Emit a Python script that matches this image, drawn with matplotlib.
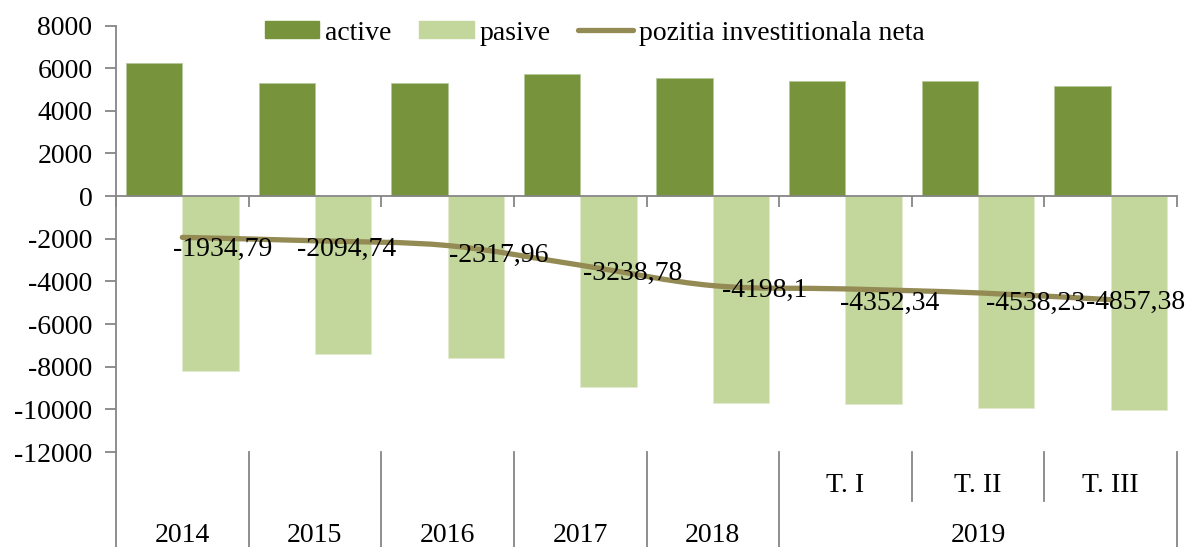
import matplotlib
matplotlib.use("Agg")
import matplotlib.pyplot as plt
from matplotlib.path import Path
from matplotlib.patches import PathPatch, Patch
from matplotlib.lines import Line2D
import matplotlib.transforms as mtransforms
import numpy as np

# data
periods = ["2014", "2015", "2016", "2017", "2018", "T. I", "T. II", "T. III"]
years = ["2014", "2015", "2016", "2017", "2018", "2019"]
active = [6260, 5290, 5290, 5710, 5525, 5410, 5385, 5180]
pasive = [-8195, -7385, -7608, -8949, -9723, -9762, -9923, -10037]
net = [-1934.79, -2094.74, -2317.96, -3238.78, -4198.1, -4352.34, -4538.23, -4857.38]
net_labels = ["-1934,79", "-2094,74", "-2317,96", "-3238,78", "-4198,1",
              "-4352,34", "-4538,23", "-4857,38"]
yticks = [-12000, -10000, -8000, -6000, -4000, -2000, 0, 2000, 4000, 6000, 8000]

# label offsets in pixels (dx, dy to baseline), picked by hand like in the source
lbl_off = [(40, -19), (32, -15), (51, -16), (52, -15), (52, -11), (44, -21), (58, -17), (25, -9)]

C_ACT = "#77933C"
C_PAS = "#C3D69B"
C_NET = "#948A54"
GREY = "#868686"

plt.rcParams['font.family'] = ['Liberation Serif', 'DejaVu Serif']
FS = 20

W, H = 1189, 547
fig = plt.figure(figsize=(W / 100, H / 100), dpi=100)
ax = fig.add_axes([116 / W, (H - 452) / H, (1177 - 116) / W, (452 - 25.5) / H])

x = np.arange(len(periods))
bw = 0.425
ax.bar(x - bw / 2, active, bw, color=C_ACT, edgecolor="#b5c99a", linewidth=0.6, zorder=2)
ax.bar(x + bw / 2, pasive, bw, color=C_PAS, edgecolor="#e2ebd0", linewidth=0.6, zorder=2)

# smoothed line (bezier through the points, like excel's "smoothed line")
pts = np.column_stack([x, net]).astype(float)
ext = np.vstack([pts[0], pts, pts[-1]])
verts = [pts[0]]
codes = [Path.MOVETO]
for i in range(len(pts) - 1):
    p0, p1, p2, p3 = ext[i], ext[i + 1], ext[i + 2], ext[i + 3]
    verts += [p1 + (p2 - p0) / 6, p2 - (p3 - p1) / 6, p2]
    codes += [Path.CURVE4] * 3
ax.add_patch(PathPatch(Path(verts, codes), facecolor="none", edgecolor=C_NET,
                       lw=3.8, capstyle="round", joinstyle="round", zorder=3))

for i, (v, t) in enumerate(zip(net, net_labels)):
    ax.annotate(t, xy=(i, v), xytext=lbl_off[i], textcoords="offset pixels",
                ha="center", va="baseline", fontsize=FS, zorder=4)

ax.set_xlim(-0.5, len(periods) - 0.5)
ax.set_ylim(-12000, 8000)
ax.set_yticks(yticks)
ax.set_yticklabels([str(t) for t in yticks], fontsize=FS)
ax.tick_params(axis="y", direction="out", length=8, width=1.3, color=GREY, pad=9)

ax.spines["top"].set_visible(False)
ax.spines["right"].set_visible(False)
ax.spines["left"].set_color(GREY)
ax.spines["left"].set_linewidth(1.3)
ax.spines["bottom"].set_position(("data", 0))
ax.spines["bottom"].set_color(GREY)
ax.spines["bottom"].set_linewidth(1.3)
ax.set_xticks(np.arange(len(periods) + 1) - 0.5)
ax.set_xticklabels([])
ax.tick_params(axis="x", direction="out", length=8, width=1.3, color=GREY)

# multi-level category labels under the plot
trans = mtransforms.blended_transform_factory(ax.transData, ax.transAxes)
y_short = -(501 - 452) / (452 - 25.5)
y_long = -(547 - 452) / (452 - 25.5)
y_q = -(486 - 452) / (452 - 25.5)
y_yr = -(536 - 452) / (452 - 25.5)
for b in np.arange(len(periods) + 1) - 0.5:
    bottom = y_short if b in (5.5, 6.5) else y_long
    ax.plot([b, b], [0, bottom], transform=trans, color=GREY, lw=1.3, clip_on=False)
for i in range(5, len(periods)):
    ax.text(i, y_q, periods[i], transform=trans, ha="center", va="center", fontsize=FS)
yr_pos = [0, 1, 2, 3, 4, 6]
for p, yr in zip(yr_pos, years):
    ax.text(p, y_yr, yr, transform=trans, ha="center", va="center", fontsize=FS)

handles = [Patch(color=C_ACT), Patch(color=C_PAS),
           Line2D([], [], color=C_NET, lw=3.8, solid_capstyle="round")]
fig.legend(handles, ["active", "pasive", "pozitia investitionala neta"],
           loc="center", bbox_to_anchor=(594.5 / W, 1 - 33 / H), ncol=3,
           frameon=False, fontsize=FS, handlelength=1.97, handleheight=0.57,
           handletextpad=0.2, columnspacing=1.0, borderpad=0, borderaxespad=0)

fig.savefig("out.png", dpi=100)
